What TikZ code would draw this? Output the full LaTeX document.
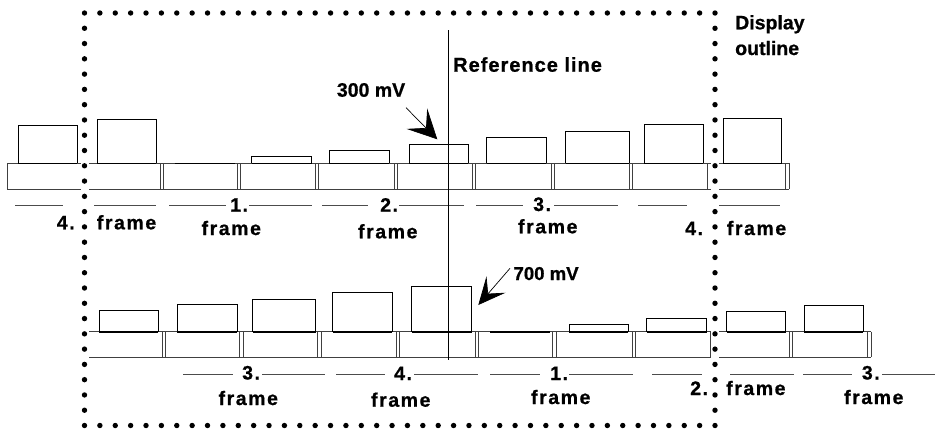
\documentclass[tikz,border=0pt]{standalone}
\usepackage{fontspec}
\setmainfont{Liberation Sans}[BoldFeatures={FakeBold=0.8}]
\newfontfamily\framefont{Liberation Sans}[LetterSpace=8, BoldFeatures={FakeBold=0.8}]
\newfontfamily\reffont{Liberation Sans}[LetterSpace=5, BoldFeatures={FakeBold=0.8}]
\usetikzlibrary{arrows.meta}
\tikzset{
  strip/.style={draw=black!75, line width=0.9pt},
  pulse/.style={draw=black, line width=0.9pt},
  pulsebase/.style={draw=black, line width=1.6pt},
  dashln/.style={draw=black!70, line width=0.9pt},
  lbl/.style={inner sep=0pt, font=\framefont\bfseries\fontsize{19.5}{22}\selectfont},
  txt/.style={inner sep=0pt, font=\bfseries\fontsize{19.5}{24}\selectfont},
  reftxt/.style={inner sep=0pt, font=\reffont\bfseries\fontsize{20}{24}\selectfont},
  bigarrow/.style={line width=0.7pt}
}
\begin{document}
\begin{tikzpicture}[x=1pt,y=-1pt]
\useasboundingbox (0,0) rectangle (936,432);

% ---------- row 1 strip ----------
\draw[strip] (7,163.3) -- (789,163.3) (7,189.3) -- (789,189.3) (7,163.3) -- (7,189.3);
\foreach \b in {81.8,160,237,315.3,394,472.3,551,629.5,707.7,785.7}
  \draw[strip] (\b,163.3) -- (\b,189.3) ({\b+3.3},163.3) -- ({\b+3.3},189.3);

% ---------- row 2 strip ----------
\draw[strip] (84,331.7) -- (871,331.7) (84,357.3) -- (871,357.3);
\foreach \b in {162,239.7,317.7,396,475.3,552.7,632.5,710.5,789,867.7}
  \draw[strip] (\b,331.7) -- (\b,357.3) ({\b+3.3},331.7) -- ({\b+3.3},357.3);

% ---------- row 1 pulses ----------
\foreach \xa/\xb/\yt in {18/77/125.7, 97/156/119.3, 251.7/311.7/156, 329.3/389.3/150.3,
    409.3/468/144, 486.7/546.3/137.3, 565.7/629/131.7, 644.3/703.3/124.3, 723.3/781.7/118.3}
  \draw[pulse] (\xa,163.3) |- (\xb,\yt) -- (\xb,163.3);
\foreach \xa/\xb in {18/77, 97/156, 174.5/234.5, 251.7/311.7, 329.3/389.3,
    409.3/468, 486.7/546.3, 565.7/629, 644.3/703.3, 723.3/781.7}
  \draw[pulsebase] (\xa,163.3) -- (\xb,163.3);

% ---------- row 2 pulses ----------
\foreach \xa/\xb/\yt in {99.3/158.3/310, 177.3/237/304, 252.7/315.7/299.3, 332.7/392.3/292.7,
    411.7/471.7/286, 569.3/628.3/324.3, 646.7/706.7/318.3, 726.7/785.7/311.7, 804.3/863.3/305}
  \draw[pulse] (\xa,331.7) |- (\xb,\yt) -- (\xb,331.7);
\foreach \xa/\xb in {99.3/158.3, 177.3/237, 252.7/315.7, 332.7/392.3, 411.7/471.7,
    490/550, 569.3/628.3, 646.7/706.7, 726.7/785.7, 804.3/863.3}
  \draw[pulsebase] (\xa,331.7) -- (\xb,331.7);

% ---------- dashes ----------
\foreach \xa/\xb in {15/63, 94/156, 169/226, 249/312, 322/368, 399/464, 476/523, 554/618, 638/687, 719/780}
  \draw[dashln] (\xa,205) -- (\xb,205);
\foreach \xa/\xb in {183/233, 262/325, 336/385, 414/478, 490/540, 569/633, 652/702, 730/794, 803/852, 882/935}
  \draw[dashln] (\xa,374) -- (\xb,374);

% ---------- reference line ----------
\coordinate (reftop) at (448.3,30);
\coordinate (refbot) at (448.3,360);
\draw[line width=0.9pt] (reftop) -- (refbot);

% ---------- display outline ----------
\draw[white, line width=8pt] (84.5,13) rectangle (715,425.5);
\foreach \i in {0,...,41} {
  \fill ({84.5+\i*15.378},13) circle[radius=2.7pt];
  \fill ({84.5+\i*15.378},425.5) circle[radius=2.7pt];
}
\foreach \j in {1,...,26} {
  \fill (84.5,{13+\j*15.278}) circle[radius=2.7pt];
  \fill (715,{13+\j*15.278}) circle[radius=2.7pt];
}

% ---------- row 1 labels ----------
\node[lbl, anchor=base west] (r1n4a) at (56.7,229.3) {4.};
\node[lbl, anchor=base west] (r1f4a) at (96.7,229.3) {frame};
\node[lbl, anchor=base west] (r1n1) at (230,211.7) {1.};
\node[lbl, anchor=base] (r1f1) at (231.3,235) {frame};
\node[lbl, anchor=base west] (r1n2) at (380,211.7) {2.};
\node[lbl, anchor=base] (r1f2) at (387.8,238.3) {frame};
\node[lbl, anchor=base west] (r1n3) at (533,211) {3.};
\node[lbl, anchor=base] (r1f3) at (547.8,233.3) {frame};
\node[lbl, anchor=base west] (r1n4b) at (685,235) {4.};
\node[lbl, anchor=base west] (r1f4b) at (726.7,235) {frame};

% ---------- row 2 labels ----------
\node[lbl, anchor=base west] (r2n3a) at (242,379.5) {3.};
\node[lbl, anchor=base] (r2f3a) at (248.3,405) {frame};
\node[lbl, anchor=base west] (r2n4) at (394,380) {4.};
\node[lbl, anchor=base] (r2f4) at (400.8,406.7) {frame};
\node[lbl, anchor=base west] (r2n1) at (550,380) {1.};
\node[lbl, anchor=base] (r2f1) at (560.8,404) {frame};
\node[lbl, anchor=base west] (r2n2) at (690,395) {2.};
\node[lbl, anchor=base west] (r2f2) at (726,395) {frame};
\node[lbl, anchor=base west] (r2n3b) at (861.7,379.5) {3.};
\node[lbl, anchor=base] (r2f3b) at (873.8,404) {frame};

% ---------- other texts ----------
\node[reftxt, anchor=base west] (reflbl) at (453,71.7) {Reference line};
\node[txt, anchor=base west] (mv300) at (336.7,96.7) {300 mV};
\node[txt, anchor=base west, font=\bfseries\fontsize{18.6}{22}\selectfont] (mv700) at (513.3,280) {700 mV};
\node[txt, anchor=base west] (disp1) at (735,29.3) {Display};
\node[txt, anchor=base west] (disp2) at (735,55) {outline};

% ---------- arrows ----------
\coordinate (a300s) at (406,107.7);
\coordinate (a300t) at (437.3,139.3);
\draw[bigarrow, -{Stealth[length=29pt,width=29pt,inset=13pt]}] (a300s) -- (a300t);
\coordinate (a700s) at (510,268.3);
\coordinate (a700t) at (478.3,305);
\draw[bigarrow, -{Stealth[length=27pt,width=25pt,inset=12pt]}] (a700s) -- (a700t);
\end{tikzpicture}
\end{document}
